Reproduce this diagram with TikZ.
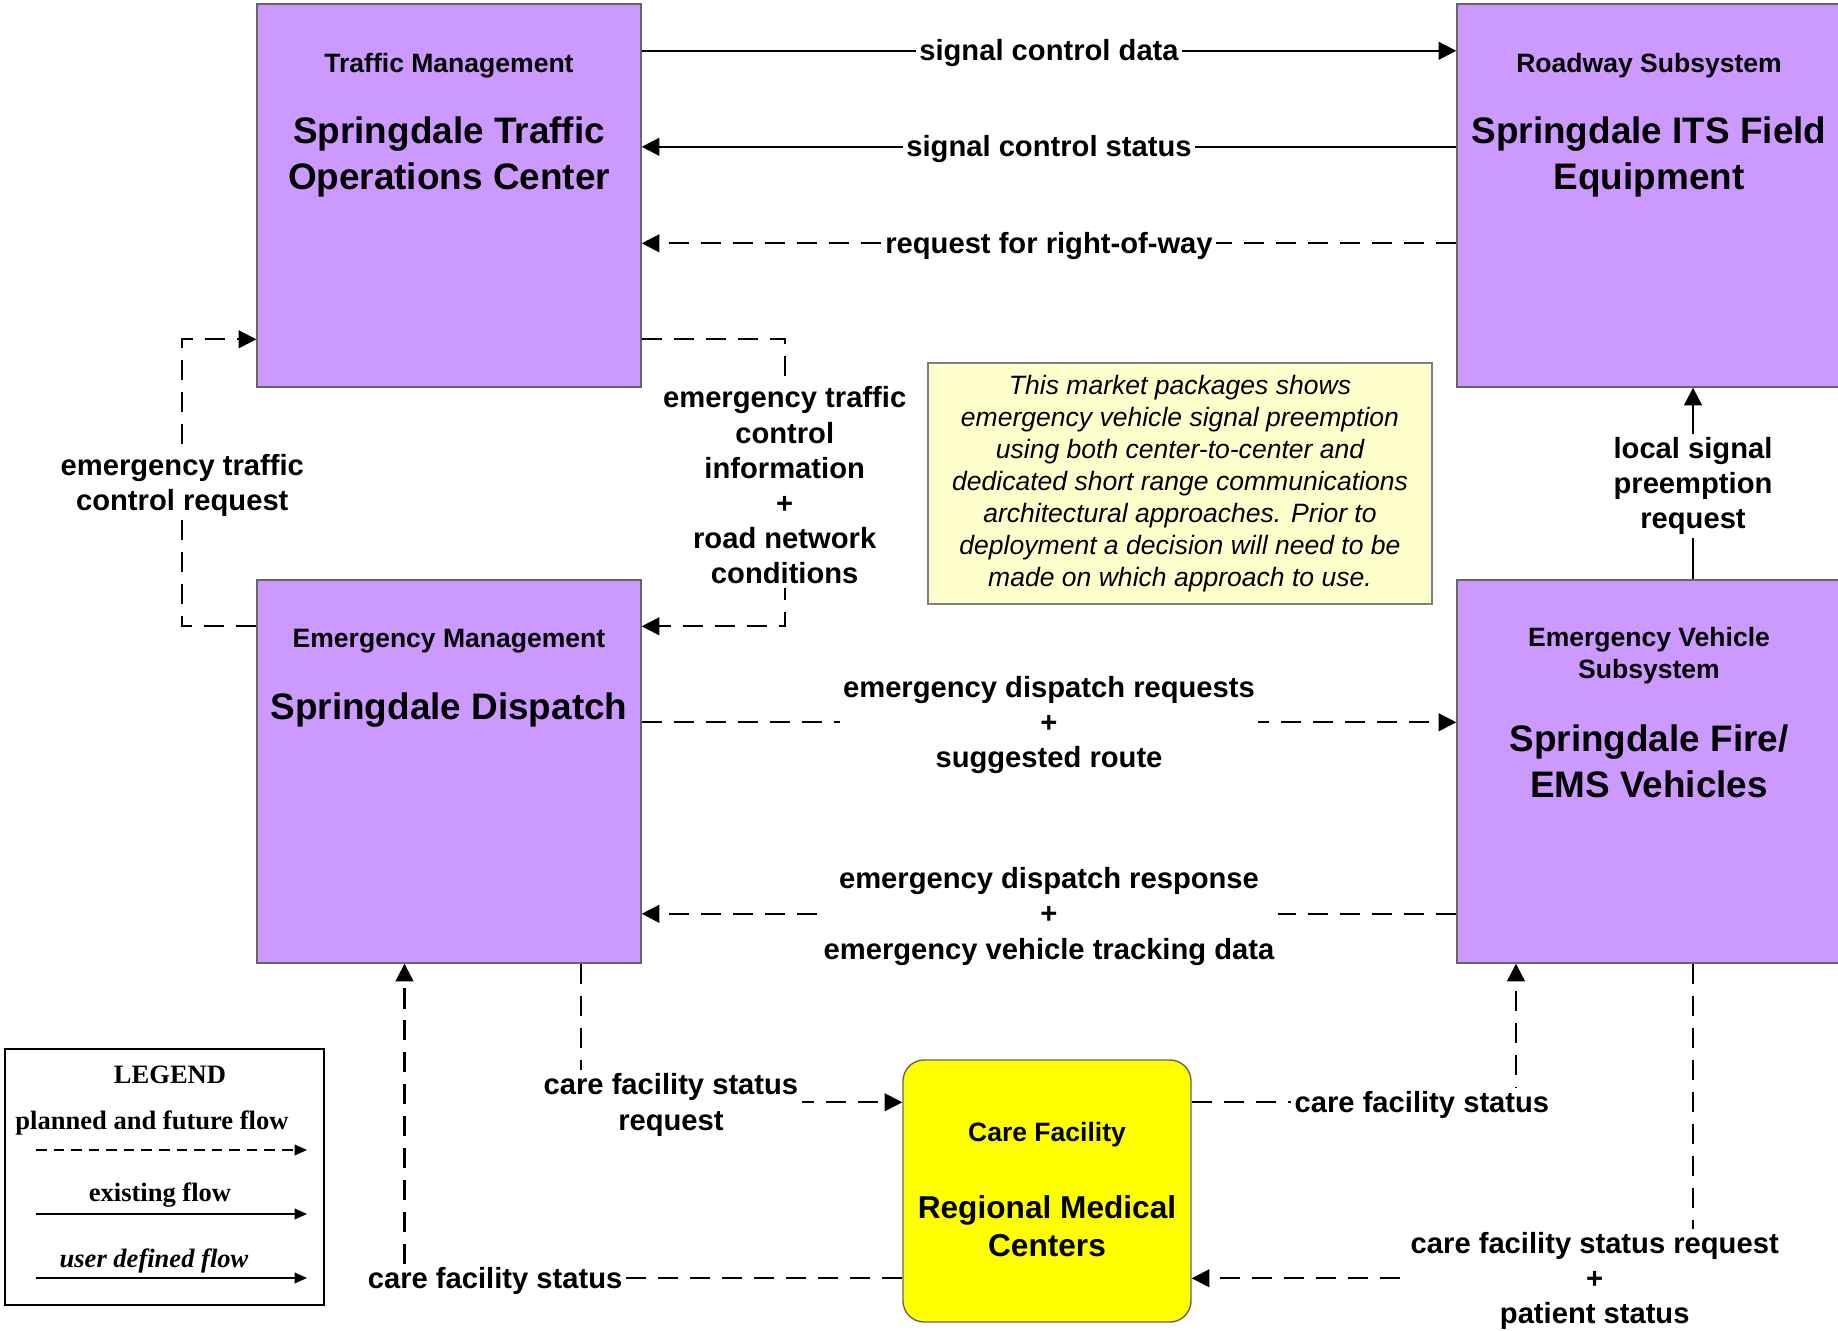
\documentclass[tikz,border=0pt]{standalone}
\usepackage{fontspec}
\setmainfont{Liberation Sans}
\newfontfamily\legendserif{Liberation Serif}
\usetikzlibrary{arrows.meta,positioning}
\definecolor{sysviolet}{HTML}{CC99FF}
\definecolor{careyellow}{HTML}{FFFF00}
\definecolor{notecream}{HTML}{FFFFCC}
\begin{document}
\begin{tikzpicture}[line width=1.3pt, >={Triangle[length=10pt, width=10pt]},
  sysbox/.style={draw=black!60, line width=0.8pt, fill=sysviolet, minimum width=7.68cm, minimum height=7.66cm, inner sep=0pt},
  subtitle/.style={align=center, inner sep=0pt, font=\fontsize{15.1}{18}\selectfont\bfseries},
  systitle/.style={align=center, inner sep=0pt, font=\fontsize{21}{26}\selectfont\bfseries},
  flowlabel/.style={fill=white, align=center, inner sep=2pt, yshift=-1.5pt, font=\fontsize{16.6}{20}\selectfont\bfseries},
  legendtext/.style={font=\legendserif\fontsize{15.1}{17}\selectfont\bfseries},
  flow/.style={->},
  flowdash/.style={->, dash pattern=on 11.4pt off 6.8pt}]
  \useasboundingbox (0,0) rectangle (36.76,-26.62);

  % subsystems
  \node[sysbox] (toc) at (8.98,-3.91) {};
  \node[subtitle] (tocsub) at (8.98,-1.31) {Traffic Management};
  \node[systitle] (toctitle) at (8.98,-3.14) {Springdale Traffic\\Operations Center};

  \node[sysbox] (road) at (32.98,-3.91) {};
  \node[subtitle] (roadsub) at (32.98,-1.31) {Roadway Subsystem};
  \node[systitle] (roadtitle) at (32.98,-3.14) {Springdale ITS Field\\Equipment};

  \node[sysbox] (disp) at (8.98,-15.43) {};
  \node[subtitle] (dispsub) at (8.98,-12.82) {Emergency Management};
  \node[systitle] (disptitle) at (8.98,-14.21) {Springdale Dispatch};

  \node[sysbox] (ev) at (32.98,-15.43) {};
  \node[subtitle] (evsub) at (32.98,-13.11) {Emergency Vehicle\\Subsystem};
  \node[systitle] (evtitle) at (32.98,-15.23) {Springdale Fire/\\EMS Vehicles};

  \node[draw=black!60, line width=0.8pt, fill=careyellow, rounded corners=12pt, minimum width=5.76cm, minimum height=5.24cm, inner sep=0pt] (care) at (20.94,-23.82) {};
  \node[subtitle] (caresub) at (20.94,-22.70) {Care Facility};
  \node[align=center, inner sep=0pt, font=\fontsize{18}{21.5}\selectfont\bfseries] (caretitle) at (20.94,-24.52) {Regional Medical\\Centers};

  % note
  \node[draw=black!50, line width=0.6pt, fill=notecream, minimum width=10.08cm, minimum height=4.82cm, align=center, inner sep=0pt, font=\fontsize{15.1}{18.2}\selectfont\itshape] (note) at (23.6,-9.67) {This market packages shows\\emergency vehicle signal preemption\\using both center-to-center and\\dedicated short range communications\\architectural approaches. Prior to\\deployment a decision will need to be\\made on which approach to use.};

  % flows between centers and field
  \draw[flow] ([yshift=-0.95cm]toc.north east) -- ([yshift=-0.95cm]road.north west) node[flowlabel, midway] {signal control data};
  \draw[flow] ([yshift=-2.87cm]road.north west) -- ([yshift=-2.87cm]toc.north east) node[flowlabel, midway] {signal control status};
  \draw[flowdash] ([yshift=-4.80cm]road.north west) -- ([yshift=-4.80cm]toc.north east) node[flowlabel, midway] {request for right-of-way};
  \draw[flowdash] ([yshift=-6.72cm]toc.north east) -| ([xshift=2.86cm, yshift=-0.94cm]disp.north east) node[flowlabel, pos=0.75] {emergency traffic\\control\\information\\+\\road network\\conditions} -- ([yshift=-0.94cm]disp.north east);
  \draw[flowdash] ([yshift=-0.94cm]disp.north west) -| ([xshift=-1.48cm, yshift=-6.72cm]toc.north west) node[flowlabel, pos=0.75] {emergency traffic\\control request} -- ([yshift=-6.72cm]toc.north west);
  \draw[flowdash] ([yshift=-2.86cm]disp.north east) -- ([yshift=-2.86cm]ev.north west) node[flowlabel, midway] {emergency dispatch requests\\+\\suggested route};
  \draw[flowdash] ([yshift=-6.69cm]ev.north west) -- ([yshift=-6.69cm]disp.north east) node[flowlabel, midway] {emergency dispatch response\\+\\emergency vehicle tracking data};
  \draw[flow] ([xshift=0.88cm]ev.north) -- ([xshift=0.88cm]road.south) node[flowlabel, midway] {local signal\\preemption\\request};

  % care facility flows
  \draw[flowdash] ([xshift=2.64cm]disp.south) |- ([yshift=-0.86cm]care.north west) node[flowlabel, pos=0.64] {care facility status\\request};
  \draw[flowdash] ([yshift=-4.38cm]care.north west) -| ([xshift=-0.89cm]disp.south) node[flowlabel, pos=0.409] {care facility status};
  \draw[flowdash] ([yshift=-0.86cm]care.north east) -| ([xshift=-2.66cm]ev.south) node[flowlabel, pos=0.355] {care facility status};
  \draw[flowdash] ([xshift=0.88cm]ev.south) |- ([yshift=-4.38cm]care.north east) node[flowlabel, pos=0.598] {care facility status request\\+\\patient status};

  % legend
  \node[draw=black, line width=1.5pt, minimum width=6.38cm, minimum height=5.12cm] (legend) at (3.29,-23.54) {};
  \node[legendtext] (legendhead) at (3.40,-21.50) {LEGEND};
  \node[legendtext] (legplanned) at (3.04,-22.46) {planned and future flow};
  \draw[line width=1pt, dash pattern=on 6pt off 4pt, -{Triangle[length=7pt, width=6pt]}] (0.72,-23.00) -- (6.14,-23.00);
  \node[legendtext] (legexisting) at (3.20,-23.90) {existing flow};
  \draw[line width=1pt, -{Triangle[length=7pt, width=6pt]}] (0.72,-24.28) -- (6.14,-24.28);
  \node[font=\legendserif\fontsize{15.1}{17}\selectfont\bfseries\itshape] (leguser) at (3.08,-25.22) {user defined flow};
  \draw[line width=1pt, -{Triangle[length=7pt, width=6pt]}] (0.72,-25.56) -- (6.14,-25.56);
\end{tikzpicture}
\end{document}
